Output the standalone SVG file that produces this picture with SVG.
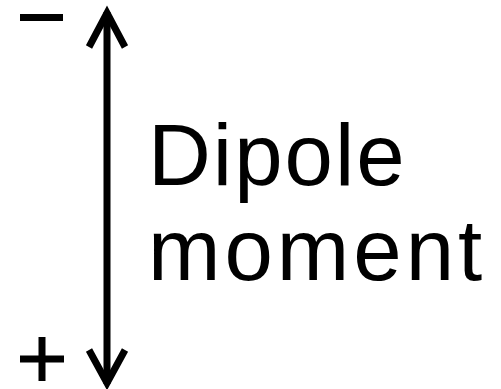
<svg xmlns="http://www.w3.org/2000/svg" width="501" height="389" viewBox="0 0 501 389">
<style>
.s{stroke:#000;stroke-width:7;fill:none}
.t{font-family:"Liberation Sans",Arial,sans-serif;font-size:87px;fill:#000}
</style>
<rect width="501" height="389" fill="#fff"/>
<g id="connectors">
<line class="s" x1="107" y1="12" x2="107" y2="384"/>
<polyline class="s" points="89,47 107,13 125,47" stroke-linejoin="miter"/>
<polyline class="s" points="89,350 107,383 125,350" stroke-linejoin="miter"/>
</g>
<g id="minus"><line class="s" x1="20" y1="17.5" x2="63" y2="17.5" stroke-width="5"/></g>
<g id="plus"><line class="s" x1="20" y1="359" x2="64" y2="359" stroke-width="5"/><line class="s" x1="42" y1="337" x2="42" y2="381" stroke-width="5"/></g>
<g id="label">
<text class="t" x="148" y="185" letter-spacing="2">Dipole</text>
<text class="t" x="148" y="280" letter-spacing="4">moment</text>
</g>
</svg>
